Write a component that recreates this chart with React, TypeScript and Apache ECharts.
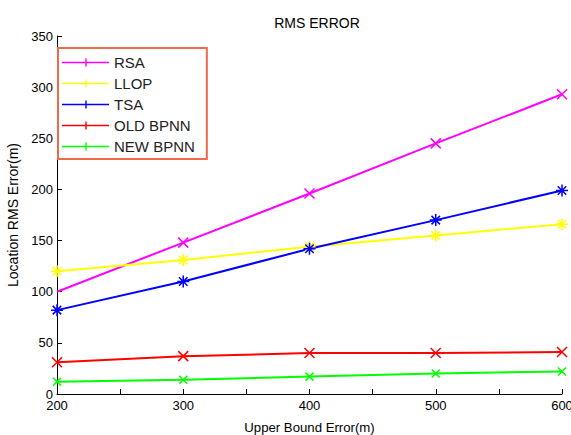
import React, { useEffect, useRef } from "react";
import * as echarts from "echarts";

const xValues = [200, 300, 400, 500, 600];
const rsa = [100, 148, 196, 245, 293];
const llop = [120, 131, 144, 155, 166];
const tsa = [82, 110, 142, 170, 199];
const oldBpnn = [31, 37, 40, 40, 41];
const newBpnn = [12, 14, 17, 20, 22];

const xMark = "path://M0,0L10,10M10,0L0,10";
const starMark = "path://M5,0L5,10M0,5L10,5M1.46,1.46L8.54,8.54M8.54,1.46L1.46,8.54";
const legendIcon = "path://M0,4.3H47V5.7H0Z M23.3,1H24.7V9H23.3Z";

const FONT = "Liberation Sans, Arial, sans-serif";

function makeSeries(name: string, vals: number[], color: string, symbol: string, size: number, skipFirst = false) {
  return {
    name,
    type: "line",
    data: vals.map((v, i) =>
      skipFirst && i === 0 ? { value: [xValues[i], v], symbol: "none" } : [xValues[i], v]
    ),
    symbol,
    symbolSize: size,
    lineStyle: { color, width: 2 },
    itemStyle: { color, borderColor: color, borderWidth: 1.5 },
    showAllSymbol: true,
  };
}

export default function App() {
  const ref = useRef<HTMLDivElement>(null);
  useEffect(() => {
    if (!ref.current) return;
    const chart = echarts.init(ref.current, undefined, { renderer: "svg" });
    const names = ["RSA", "LLOP", "TSA", "OLD BPNN", "NEW BPNN"];
    const colors = ["#ff00ff", "#ffff00", "#0000ff", "#ff0000", "#00ff00"];
    chart.setOption({
      animation: false,
      backgroundColor: "#ffffff",
      title: {
        text: "RMS ERROR",
        left: 312,
        textAlign: "center",
        top: 11,
        textStyle: { fontFamily: FONT, fontSize: 14, fontWeight: "normal", color: "#000" },
      },
      legend: {
        orient: "vertical",
        left: 58,
        top: 48,
        padding: [7, 12, 5, 4],
        itemGap: 6,
        itemWidth: 47,
        itemHeight: 12,
        backgroundColor: "#ffffff",
        borderColor: "#f06a4a",
        borderWidth: 2,
        borderRadius: 0,
        textStyle: { fontFamily: FONT, fontSize: 15, color: "#222" },
        data: names.map((n, i) => ({
          name: n,
          icon: legendIcon,
          itemStyle: { color: colors[i], borderWidth: 0 },
        })),
      },
      grid: { left: 57, right: 9, top: 36, bottom: 41, outerBoundsMode: "none" },
      xAxis: {
        type: "value",
        min: 200,
        max: 600,
        interval: 50,
        name: "Upper Bound Error(m)",
        nameLocation: "middle",
        nameGap: 27,
        nameTextStyle: { fontFamily: FONT, fontSize: 13.2, color: "#000" },
        axisLine: { lineStyle: { color: "#000", width: 1 } },
        axisTick: { inside: true, length: 5, lineStyle: { color: "#000" } },
        axisLabel: {
          fontFamily: FONT,
          fontSize: 13,
          color: "#000",
          margin: 5,
          formatter: (v: number) => (v % 100 === 0 ? String(v) : ""),
        },
        splitLine: { show: false },
      },
      yAxis: {
        type: "value",
        min: 0,
        max: 350,
        interval: 50,
        name: "Location RMS Error(m)",
        nameLocation: "middle",
        nameGap: 30,
        nameTextStyle: { fontFamily: FONT, fontSize: 14, color: "#000" },
        axisLine: { show: true, lineStyle: { color: "#000", width: 1 } },
        axisTick: { show: true, inside: true, length: 5, lineStyle: { color: "#000" } },
        axisLabel: { fontFamily: FONT, fontSize: 13, color: "#000", margin: 4 },
        splitLine: { show: false },
      },
      series: [
        makeSeries("RSA", rsa, colors[0], xMark, 10, true),
        makeSeries("LLOP", llop, colors[1], starMark, 12),
        makeSeries("TSA", tsa, colors[2], starMark, 12),
        makeSeries("OLD BPNN", oldBpnn, colors[3], xMark, 10),
        makeSeries("NEW BPNN", newBpnn, colors[4], xMark, 8),
      ],
    });
    return () => chart.dispose();
  }, []);
  return <div ref={ref} style={{ width: 571, height: 435, position: "absolute", left: 0, top: 0 }} />;
}
